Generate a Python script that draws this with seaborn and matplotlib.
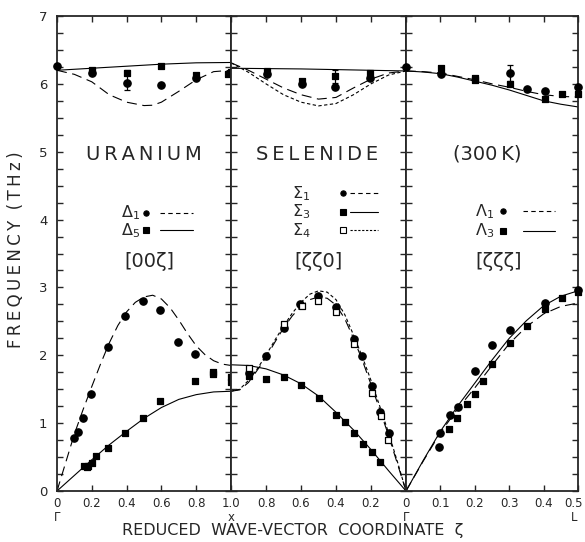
import numpy as np
import pandas as pd
import matplotlib
matplotlib.use("Agg")
import matplotlib.pyplot as plt
import matplotlib.transforms as mtransforms
import seaborn as sns

# ---------------- data ----------------
# y axis
freq_ticks = list(np.arange(0, 7.01, 0.25))
freq_labels = [str(int(t)) if abs(t - round(t)) < 1e-9 else "" for t in freq_ticks]

# Panel 1 : [00ζ]  Γ -> X
p1_ticks = [0.0, 0.2, 0.4, 0.6, 0.8, 1.0]
p1_labels = ["0\nΓ", "0.2", "0.4", "0.6", "0.8", "1.0\nx"]
# theory, acoustic
d1_ac_q = [0.0, 0.05, 0.1, 0.15, 0.2, 0.25, 0.3, 0.35, 0.4, 0.45, 0.5, 0.55, 0.6, 0.65, 0.7, 0.75, 0.8, 0.85, 0.9, 0.95, 1.0]
d1_ac_f = [0.0, 0.42, 0.84, 1.2, 1.54, 1.87, 2.18, 2.44, 2.64, 2.78, 2.86, 2.885, 2.83, 2.7, 2.52, 2.32, 2.14, 2.01, 1.92, 1.87, 1.85]
d5_ac_q = [0.0, 0.1, 0.2, 0.3, 0.4, 0.5, 0.6, 0.7, 0.8, 0.9, 1.0]
d5_ac_f = [0.0, 0.23, 0.46, 0.68, 0.88, 1.07, 1.23, 1.35, 1.42, 1.46, 1.47]
# theory, optic
d1_op_q = [0.0, 0.1, 0.2, 0.3, 0.4, 0.5, 0.55, 0.6, 0.7, 0.8, 0.9, 1.0]
d1_op_f = [6.2, 6.14, 6.03, 5.84, 5.73, 5.68, 5.685, 5.73, 5.89, 6.06, 6.18, 6.2]
d5_op_q = [0.0, 0.2, 0.4, 0.6, 0.8, 1.0]
d5_op_f = [6.2, 6.23, 6.26, 6.29, 6.31, 6.315]
# measured
d1_pt_q = [0.098, 0.122, 0.148, 0.195, 0.291, 0.393, 0.496, 0.594, 0.697, 0.795,
           0.0, 0.2, 0.4, 0.6, 0.8]
d1_pt_f = [0.78, 0.875, 1.08, 1.435, 2.12, 2.585, 2.805, 2.67, 2.195, 2.02,
           6.265, 6.16, 6.01, 5.99, 6.09]
d5_pt_q = [0.157, 0.17, 0.18, 0.2, 0.224, 0.295, 0.393, 0.496, 0.594, 0.795, 0.897, 0.897, 1.0, 1.0,
           0.2, 0.4, 0.6, 0.8, 1.0, 0.985]
d5_pt_f = [0.375, 0.36, 0.375, 0.415, 0.51, 0.635, 0.855, 1.075, 1.32, 1.62, 1.75, 1.72, 1.68, 1.6,
           6.2, 6.16, 6.265, 6.13, 6.18, 6.15]
d_err_q = [0.4]
d_err_f = [6.01]
d_err_lo = [0.1]
d_err_hi = [0.19]

# Panel 2 : [ζζ0]  X -> Γ
p2_ticks = [1.0, 0.8, 0.6, 0.4, 0.2, 0.0]
p2_labels = ["", "0.8", "0.6", "0.4", "0.2", "0\nΓ"]
s3_ac_q = [1.0, 0.9, 0.8, 0.7, 0.6, 0.5, 0.4, 0.3, 0.2, 0.1, 0.0]
s3_ac_f = [1.86, 1.85, 1.8, 1.71, 1.58, 1.4, 1.16, 0.9, 0.61, 0.3, 0.0]
s1_ac_q = [1.0, 0.95, 0.9, 0.85, 0.8, 0.75, 0.7, 0.65, 0.6, 0.55, 0.5, 0.45, 0.4, 0.35, 0.3, 0.25, 0.2, 0.15, 0.1, 0.05, 0.0]
s1_ac_f = [1.47, 1.49, 1.6, 1.78, 1.97, 2.19, 2.4, 2.58, 2.72, 2.82, 2.86, 2.84, 2.74, 2.54, 2.25, 1.93, 1.57, 1.2, 0.82, 0.41, 0.0]
s4_ac_q = [1.0, 0.95, 0.9, 0.85, 0.8, 0.75, 0.7, 0.65, 0.6, 0.55, 0.5, 0.45, 0.4, 0.35, 0.3, 0.25, 0.2, 0.15, 0.1, 0.05, 0.0]
s4_ac_f = [1.47, 1.5, 1.63, 1.8, 2.0, 2.22, 2.43, 2.62, 2.78, 2.9, 2.95, 2.93, 2.82, 2.6, 2.3, 1.98, 1.63, 1.25, 0.86, 0.44, 0.0]
s3_op_q = [1.0, 0.8, 0.6, 0.4, 0.2, 0.0]
s3_op_f = [6.23, 6.225, 6.22, 6.21, 6.2, 6.19]
s1_op_q = [1.0, 0.9, 0.8, 0.7, 0.6, 0.5, 0.4, 0.3, 0.2, 0.1, 0.0]
s1_op_f = [6.31, 6.2, 6.07, 5.94, 5.84, 5.775, 5.8, 5.94, 6.07, 6.16, 6.19]
s4_op_q = [1.0, 0.9, 0.8, 0.7, 0.6, 0.5, 0.4, 0.3, 0.2, 0.1, 0.0]
s4_op_f = [6.31, 6.17, 6.0, 5.84, 5.73, 5.675, 5.71, 5.84, 6.0, 6.13, 6.19]
s1_pt_q = [0.9, 0.799, 0.699, 0.603, 0.502, 0.402, 0.297, 0.249, 0.195, 0.148, 0.1,
           0.794, 0.593, 0.406, 0.206]
s1_pt_f = [1.74, 1.995, 2.4, 2.76, 2.87, 2.71, 2.245, 1.985, 1.545, 1.17, 0.86,
           6.14, 6.0, 5.96, 6.09]
s3_pt_q = [0.9, 0.798, 0.695, 0.598, 0.498, 0.398, 0.349, 0.297, 0.245, 0.195, 0.148,
           0.794, 0.593, 0.406, 0.206]
s3_pt_f = [1.69, 1.645, 1.685, 1.56, 1.37, 1.12, 1.01, 0.86, 0.7, 0.58, 0.43,
           6.19, 6.04, 6.11, 6.16]
s4_pt_q = [0.897, 0.699, 0.594, 0.502, 0.402, 0.297, 0.195, 0.144, 0.105]
s4_pt_f = [1.81, 2.46, 2.72, 2.8, 2.645, 2.16, 1.445, 1.1, 0.75]
s_err_q = [0.406]
s_err_f = [6.11]
s_err = [0.1]

# Panel 3 : [ζζζ]  Γ -> L
p3_ticks = [0.0, 0.1, 0.2, 0.3, 0.4, 0.5]
p3_labels = ["", "0.1", "0.2", "0.3", "0.4", "0.5\nL"]
l3_ac_q = [0.0, 0.05, 0.1, 0.15, 0.2, 0.25, 0.3, 0.35, 0.4, 0.45, 0.5]
l3_ac_f = [0.0, 0.45, 0.88, 1.25, 1.59, 1.93, 2.25, 2.51, 2.73, 2.87, 2.95]
l1_ac_q = [0.0, 0.05, 0.1, 0.15, 0.2, 0.25, 0.3, 0.35, 0.4, 0.45, 0.5]
l1_ac_f = [0.0, 0.44, 0.86, 1.21, 1.52, 1.85, 2.17, 2.42, 2.61, 2.72, 2.77]
l1_op_q = [0.0, 0.05, 0.1, 0.15, 0.2, 0.25, 0.3, 0.35, 0.4, 0.45, 0.5]
l1_op_f = [6.19, 6.18, 6.16, 6.11, 6.06, 6.0, 5.95, 5.89, 5.84, 5.815, 5.805]
l3_op_q = [0.0, 0.05, 0.1, 0.15, 0.2, 0.25, 0.3, 0.35, 0.4, 0.45, 0.5]
l3_op_f = [6.19, 6.175, 6.15, 6.1, 6.04, 5.98, 5.91, 5.83, 5.75, 5.7, 5.66]
l1_pt_q = [0.097, 0.099, 0.129, 0.151, 0.201, 0.251, 0.302, 0.403, 0.5,
           0.0, 0.101, 0.302, 0.351, 0.404, 0.5]
l1_pt_f = [0.65, 0.86, 1.12, 1.235, 1.77, 2.145, 2.375, 2.775, 2.96,
           6.25, 6.14, 6.16, 5.92, 5.895, 5.95]
l3_pt_q = [0.124, 0.148, 0.177, 0.201, 0.225, 0.251, 0.302, 0.352, 0.403, 0.453, 0.5,
           0.101, 0.202, 0.202, 0.302, 0.404, 0.454, 0.5]
l3_pt_f = [0.91, 1.08, 1.285, 1.435, 1.62, 1.87, 2.185, 2.425, 2.685, 2.845, 2.935,
           6.23, 6.09, 6.055, 6.0, 5.775, 5.85, 5.85]
l_err_q = [0.302]
l_err_f = [6.16]
l_err = [0.12]

# ---------------- style ----------------
sns.set_style("ticks")
plt.rcParams['font.family'] = ['DejaVu Sans']
plt.rcParams['mathtext.fontset'] = 'dejavusans'

LONG = (0, (9, 5))
SHORT = (0, (3, 2.2))
K = 'black'
TS = "\u2009"

fig = plt.figure(figsize=(5.85, 5.42), dpi=100)
gs = fig.add_gridspec(1, 3, left=57/585, right=578/585, top=1-16/542, bottom=1-491/542,
                      wspace=0, width_ratios=[174, 175, 172])
axes = [fig.add_subplot(gs[0, i]) for i in range(3)]


def curve(ax, q, f, ls):
    sns.lineplot(x=q, y=f, ax=ax, color=K, lw=0.8, linestyle=ls, sort=False,
                 estimator=None, legend=False)


def points(ax, q, f, marker, s, face=K):
    sns.scatterplot(x=q, y=f, ax=ax, marker=marker, s=s, color=face, edgecolor=K,
                    linewidth=0.9, clip_on=False, zorder=5, legend=False)


ax1, ax2, ax3 = axes
# panel 1
curve(ax1, d1_ac_q, d1_ac_f, LONG)
curve(ax1, d5_ac_q, d5_ac_f, '-')
curve(ax1, d1_op_q, d1_op_f, LONG)
curve(ax1, d5_op_q, d5_op_f, '-')
points(ax1, d1_pt_q, d1_pt_f, 'o', 28)
points(ax1, d5_pt_q, d5_pt_f, 's', 24)
ax1.errorbar(d_err_q, d_err_f, yerr=[d_err_lo, d_err_hi], fmt='none', ecolor=K,
             elinewidth=0.9, capsize=2.5, capthick=0.9)
# panel 2
curve(ax2, s3_ac_q, s3_ac_f, '-')
curve(ax2, s1_ac_q, s1_ac_f, LONG)
curve(ax2, s4_ac_q, s4_ac_f, SHORT)
curve(ax2, s3_op_q, s3_op_f, '-')
curve(ax2, s1_op_q, s1_op_f, LONG)
curve(ax2, s4_op_q, s4_op_f, SHORT)
points(ax2, s1_pt_q, s1_pt_f, 'o', 28)
points(ax2, s3_pt_q, s3_pt_f, 's', 24)
points(ax2, s4_pt_q, s4_pt_f, 's', 20, face='white')
ax2.errorbar(s_err_q, s_err_f, yerr=s_err, fmt='none', ecolor=K,
             elinewidth=0.9, capsize=2.5, capthick=0.9)
# panel 3
curve(ax3, l3_ac_q, l3_ac_f, '-')
curve(ax3, l1_ac_q, l1_ac_f, LONG)
curve(ax3, l1_op_q, l1_op_f, LONG)
curve(ax3, l3_op_q, l3_op_f, '-')
points(ax3, l1_pt_q, l1_pt_f, 'o', 28)
points(ax3, l3_pt_q, l3_pt_f, 's', 24)
ax3.errorbar(l_err_q, l_err_f, yerr=l_err, fmt='none', ecolor=K,
             elinewidth=0.9, capsize=2.5, capthick=0.9)

# axes formatting
ax1.set_xlim(0, 1)
ax2.set_xlim(1, 0)
ax3.set_xlim(0, 0.5)
for ax, tk, lb in zip(axes, [p1_ticks, p2_ticks, p3_ticks], [p1_labels, p2_labels, p3_labels]):
    ax.set_ylim(0, 7)
    ax.set_xticks(tk)
    ax.set_xticklabels(lb, fontsize=8.5, linespacing=1.15)
    ax.set_yticks(freq_ticks)
    ax.tick_params(direction='in', top=True, right=True, length=4.5, width=1.0, pad=4)
    ax.set_xlabel('')
    ax.set_ylabel('')
    for sp in ax.spines.values():
        sp.set_linewidth(1.3)
        sp.set_visible(True)
ax1.set_yticklabels(freq_labels, fontsize=9.5)
ax1.tick_params(axis='y', pad=7)
ax2.set_yticklabels([])
ax3.set_yticklabels([])
last = ax3.get_xticklabels()[-1]
last.set_transform(last.get_transform() + mtransforms.ScaledTranslation(-3/72, 0, fig.dpi_scale_trans))

# titles inside panels
big = dict(fontsize=14, ha='center', va='center')
ax1.text(0.5, 0.709, TS.join("URANIUM"), transform=ax1.transAxes, **big)
ax2.text(0.49, 0.709, TS.join("SELENIDE"), transform=ax2.transAxes, **big)
ax3.text(0.47, 0.709, "(300" + TS + "K)", transform=ax3.transAxes, **big)
ax1.text(0.53, 0.483, "[00ζ]", transform=ax1.transAxes, **big)
ax2.text(0.5, 0.483, "[ζζ0]", transform=ax2.transAxes, **big)
ax3.text(0.54, 0.483, "[ζζζ]", transform=ax3.transAxes, **big)


def key(ax, xl, xd, x0, x1, y, label, marker, ls, face=K):
    ax.text(xl, y, label, transform=ax.transAxes, fontsize=11.5, va='center', ha='left')
    ax.plot([xd], [y], marker=marker, ms=3.8, mfc=face, mec=K, mew=0.8,
            transform=ax.transAxes, ls='none')
    ax.plot([x0, x1], [y, y], color=K, lw=0.8, ls=ls, transform=ax.transAxes)


key(ax1, 0.37, 0.51, 0.59, 0.78, 0.586, r"$\Delta_1$", 'o', (0, (4, 3)))
key(ax1, 0.37, 0.51, 0.59, 0.78, 0.549, r"$\Delta_5$", 's', '-')
key(ax2, 0.35, 0.64, 0.68, 0.84, 0.627, r"$\Sigma_1$", 'o', (0, (4, 3)))
key(ax2, 0.35, 0.64, 0.68, 0.84, 0.588, r"$\Sigma_3$", 's', '-')
key(ax2, 0.35, 0.64, 0.68, 0.84, 0.549, r"$\Sigma_4$", 's', (0, (2, 1.5)), face='white')
key(ax3, 0.40, 0.565, 0.68, 0.866, 0.589, r"$\Lambda_1$", 'o', (0, (4, 3)))
key(ax3, 0.40, 0.565, 0.68, 0.866, 0.548, r"$\Lambda_3$", 's', '-')

fig.text(293/585, 1-531/542, "REDUCED  WAVE-VECTOR  COORDINATE  ζ", ha='center', va='center', fontsize=11.5)
fig.text(16/585, 1-250/542, "F R E Q U E N C Y   ( T H z )".replace(" ", TS).replace(TS*3, "  "),
         ha='center', va='center', rotation=90, fontsize=12)

fig.savefig("out.png", dpi=100)
